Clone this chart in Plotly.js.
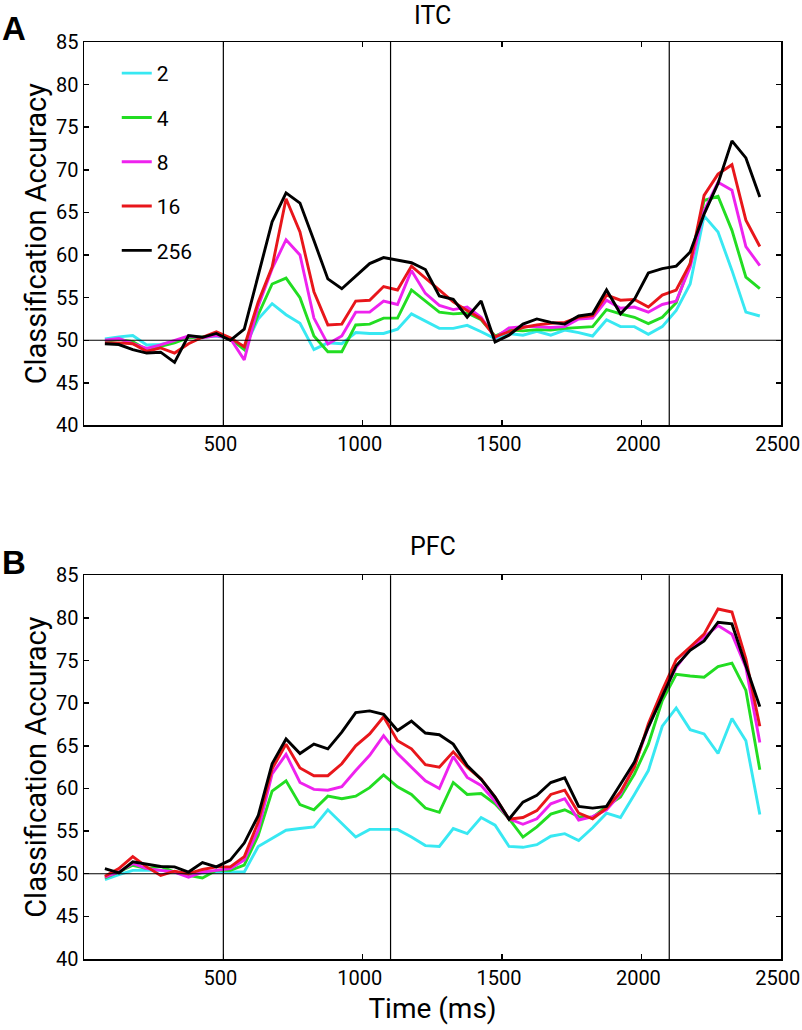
<!DOCTYPE html>
<html>
<head>
<meta charset="utf-8">
<script src="https://cdn.plot.ly/plotly-3.0.1.min.js"></script>
<style>
html, body { margin: 0; padding: 0; background: #ffffff; }
#chart { width: 802px; height: 1030px; }
</style>
</head>
<body>
<div id="chart"></div>
<script>
// ---- Data ----
const timeMs = [75,125,175,225,275,325,375,425,475,525,575,625,675,725,775,825,875,925,975,1025,1075,1125,1175,1225,1275,1325,1375,1425,1475,1525,1575,1625,1675,1725,1775,1825,1875,1925,1975,2025,2075,2125,2175,2225,2275,2325,2375,2425];

const setSizes = ['2', '4', '8', '16', '256'];
const seriesColors = ['#38e8f2', '#22dd22', '#ee22ee', '#e8161b', '#000000'];

// ITC (panel A)
const itc_2 = [50.15,50.4,50.55,49.45,49.5,49.85,50.35,50.35,50.5,50.2,49.05,52.5,54.3,53.0,52.0,48.9,49.7,49.6,50.9,50.8,50.8,51.3,53.1,52.2,51.4,51.4,51.75,51.0,50.2,50.8,50.6,51.05,50.6,51.2,50.9,50.5,52.4,51.6,51.6,50.7,51.6,53.5,56.6,64.6,62.7,58.2,53.3,52.85];
const itc_4 = [49.85,50.1,49.85,48.9,49.3,49.7,50.3,50.4,50.6,50.2,48.9,53.0,56.6,57.3,55.0,50.5,48.65,48.65,51.8,51.9,52.6,52.6,55.9,54.6,53.3,53.1,53.2,52.4,50.5,51.2,51.1,51.25,51.2,51.4,51.5,51.6,53.6,53.1,52.7,51.95,52.7,54.4,59.0,66.4,66.9,62.9,57.4,56.05];
const itc_8 = [50.0,50.2,49.6,49.05,49.45,50.0,50.5,50.3,50.55,50.2,47.7,54.0,58.4,61.8,60.0,52.6,49.55,50.5,53.3,53.3,54.6,54.2,58.2,55.5,54.1,53.6,53.9,52.7,50.3,51.45,51.6,51.6,51.5,51.6,52.5,52.6,54.7,53.75,53.9,53.3,54.2,54.6,58.6,65.2,68.55,67.6,61.0,58.75];
const itc_16 = [49.7,49.7,49.6,48.7,49.1,48.5,49.6,50.35,51.0,50.3,49.25,54.5,58.6,66.6,62.7,55.7,51.8,51.9,54.6,54.7,56.3,55.9,58.7,57.3,55.8,54.5,53.5,52.5,50.4,51.0,51.5,51.8,52.0,52.1,52.7,52.9,55.3,54.7,54.8,53.9,55.3,55.9,59.0,67.0,69.5,70.6,64.1,61.0];
const itc_256 = [49.6,49.5,48.9,48.5,48.6,47.4,50.55,50.35,50.8,50.0,51.3,57.5,63.9,67.3,66.1,61.7,57.2,56.05,57.5,59.0,59.7,59.4,59.1,58.3,55.2,54.8,52.7,54.6,49.8,50.6,51.9,52.5,52.1,51.9,52.85,53.1,55.9,53.1,54.8,57.9,58.4,58.7,60.35,64.8,68.4,73.4,71.4,66.8];

// PFC (panel B)
const pfc_2 = [49.3,49.9,50.4,50.4,50.4,50.2,49.9,50.1,50.2,50.2,50.2,53.2,54.1,55.1,55.3,55.5,57.5,55.9,54.3,55.2,55.2,55.2,54.3,53.3,53.2,55.3,54.7,56.6,55.7,53.2,53.1,53.4,54.4,54.7,53.9,55.4,57.1,56.6,59.3,62.1,67.3,69.45,66.9,66.4,64.1,68.2,65.6,56.95];
const pfc_4 = [49.5,50.2,51.0,50.6,50.85,50.2,49.8,49.5,50.4,50.4,51.0,54.5,59.7,60.9,58.1,57.5,59.1,58.8,59.1,60.1,61.6,60.2,59.3,57.7,57.2,60.7,59.3,59.4,58.2,56.45,54.3,55.5,57.0,57.5,56.7,56.6,57.9,59.0,61.7,65.2,70.3,73.4,73.2,73.05,74.3,74.7,71.5,62.2];
const pfc_8 = [49.6,50.2,51.2,50.6,50.4,50.2,49.6,50.2,50.4,50.6,51.6,55.1,61.7,64.0,60.7,59.9,59.8,60.2,62.1,63.9,66.2,64.1,62.5,60.9,60.0,63.75,61.3,60.35,58.5,56.45,55.8,56.45,58.2,58.8,56.3,56.7,57.5,59.4,62.7,67.2,70.9,74.2,76.4,77.7,79.1,78.1,74.2,65.4];
const pfc_16 = [49.7,50.6,52.0,50.8,49.8,50.3,50.0,50.5,50.8,50.8,52.0,56.05,62.3,65.2,62.4,61.5,61.5,62.9,65.0,66.4,68.4,65.6,64.65,62.8,62.5,64.3,62.5,61.1,59.0,56.4,56.6,57.4,59.3,59.8,57.1,56.45,57.7,59.6,62.5,67.6,71.5,75.1,76.6,78.1,81.05,80.7,75.2,67.3];
const pfc_256 = [50.6,50.1,51.4,51.1,50.85,50.8,50.2,51.3,50.8,51.6,53.6,56.8,62.9,65.8,64.1,65.2,64.65,66.6,68.9,69.1,68.7,66.8,67.9,66.5,66.3,65.2,62.7,61.1,59.0,56.4,58.4,59.2,60.7,61.25,57.9,57.7,57.9,60.5,63.1,67.2,70.9,74.4,76.2,77.3,79.5,79.3,74.4,69.6];

const itcSeries = [itc_2, itc_4, itc_8, itc_16, itc_256];
const pfcSeries = [pfc_2, pfc_4, pfc_8, pfc_16, pfc_256];

const eventTimes = [500, 1100, 2100];
const chanceLevel = 50;
const xTickVals = [500, 1000, 1500, 2000, 2500];
const panelTitles = ['ITC', 'PFC'];
const panelLetters = ['A', 'B'];

// ---- Build ----
const FONT = 'Roboto, "Noto Sans", sans-serif';
const BOLD = '"Liberation Sans", Arial, sans-serif';

const traces = [];
itcSeries.forEach((vals, i) => {
  traces.push({
    x: timeMs, y: vals, xaxis: 'x', yaxis: 'y', type: 'scatter', mode: 'lines',
    name: setSizes[i], legendgroup: 'g' + i, showlegend: true,
    line: { color: seriesColors[i], width: 2.9 }
  });
});
pfcSeries.forEach((vals, i) => {
  traces.push({
    x: timeMs, y: vals, xaxis: 'x2', yaxis: 'y2', type: 'scatter', mode: 'lines',
    name: setSizes[i], legendgroup: 'g' + i, showlegend: false,
    line: { color: seriesColors[i], width: 2.9 }
  });
});

function axisBase() {
  return {
    showline: true, linecolor: '#000', linewidth: 1.5, mirror: 'ticks',
    ticks: 'inside', ticklen: 5, tickwidth: 1.5, tickcolor: '#000',
    showgrid: false, zeroline: false, ticklabeloverflow: 'allow',
    tickfont: { family: FONT, size: 20, color: '#000' }
  };
}

const shapes = [];
[['x', 'y'], ['x2', 'y2']].forEach(([xr, yr]) => {
  eventTimes.forEach(t => {
    shapes.push({ type: 'line', xref: xr, yref: yr + ' domain', x0: t, x1: t, y0: 0, y1: 1,
      line: { color: '#000', width: 1.2 }, layer: 'above' });
  });
  shapes.push({ type: 'line', xref: xr + ' domain', yref: yr, x0: 0, x1: 1, y0: chanceLevel, y1: chanceLevel,
    line: { color: '#000', width: 1.2 }, layer: 'above' });
});

const layout = {
  width: 802, height: 1030,
  margin: { l: 84, r: 21, t: 42, b: 71, pad: 0 },
  paper_bgcolor: '#fff', plot_bgcolor: '#fff',
  showlegend: true,
  legend: {
    x: 0.047, y: 0.988, xanchor: 'left', yanchor: 'top',
    bgcolor: 'rgba(0,0,0,0)', borderwidth: 0,
    font: { family: FONT, size: 21, color: '#000' },
    tracegroupgap: 14, itemwidth: 30
  },
  xaxis: Object.assign(axisBase(), { anchor: 'y', range: [0, 2501], tickvals: xTickVals, ticklabelshift: -3 }),
  xaxis2: Object.assign(axisBase(), { anchor: 'y2', range: [0, 2501], tickvals: xTickVals, ticklabelshift: -3,
    title: { text: 'Time (ms)', font: { family: FONT, size: 28, color: '#000' }, standoff: 10 } }),
  yaxis: Object.assign(axisBase(), { anchor: 'x', domain: [0.5818, 1], range: [40, 85], tick0: 40, dtick: 5,
    title: { text: 'Classification Accuracy', font: { family: FONT, size: 29, color: '#000' }, standoff: 1 } }),
  yaxis2: Object.assign(axisBase(), { anchor: 'x2', domain: [0, 0.4184], range: [40, 85], tick0: 40, dtick: 5,
    title: { text: 'Classification Accuracy', font: { family: FONT, size: 29, color: '#000' }, standoff: 1 } }),
  shapes: shapes,
  annotations: [
    { text: panelTitles[0], xref: 'paper', yref: 'paper', x: 0.5, y: 1.0294, xanchor: 'center', yanchor: 'middle',
      showarrow: false, font: { family: FONT, size: 25, color: '#000' } },
    { text: panelTitles[1], xref: 'paper', yref: 'paper', x: 0.5, y: 0.4496, xanchor: 'center', yanchor: 'middle',
      showarrow: false, font: { family: FONT, size: 25, color: '#000' } },
    { text: '<b>' + panelLetters[0] + '</b>', xref: 'paper', yref: 'paper', x: -0.1005, y: 1.0152, xanchor: 'center', yanchor: 'middle',
      showarrow: false, font: { family: BOLD, size: 33, color: '#000' } },
    { text: '<b>' + panelLetters[1] + '</b>', xref: 'paper', yref: 'paper', x: -0.1005, y: 0.4329, xanchor: 'center', yanchor: 'middle',
      showarrow: false, font: { family: BOLD, size: 33, color: '#000' } }
  ]
};

Plotly.newPlot('chart', traces, layout, { staticPlot: true, displayModeBar: false });
</script>
</body>
</html>
